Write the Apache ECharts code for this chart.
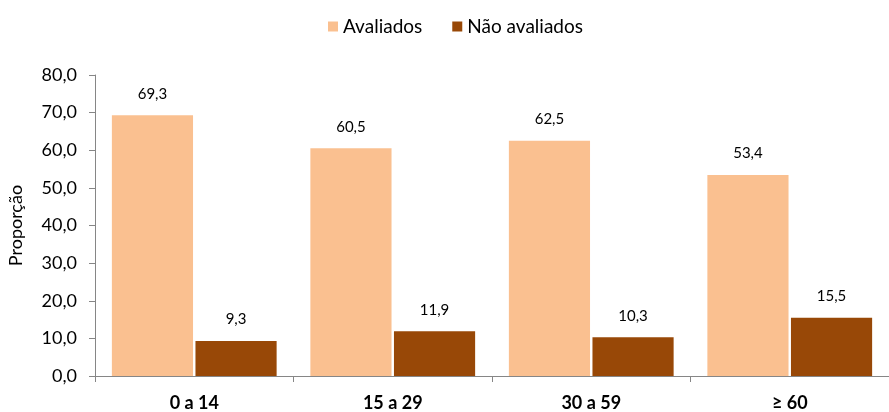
<!DOCTYPE html>
<html>
<head>
<meta charset="utf-8">
<script src="https://cdn.jsdelivr.net/npm/echarts@6/dist/echarts.min.js"></script>
<style>
  html, body { margin: 0; padding: 0; background: #fff; }
  #chart { width: 889px; height: 412px; }
</style>
</head>
<body>
<div id="chart"></div>
<script>
// Age groups and the share of each group, by evaluation status
const categories = ['0 a 14', '15 a 29', '30 a 59', '≥ 60'];
const avaliados = [69.3, 60.5, 62.5, 53.4];
const naoAvaliados = [9.3, 11.9, 10.3, 15.5];
const yTicks = [0, 10, 20, 30, 40, 50, 60, 70, 80];

const FONT = 'Lato, "Liberation Sans", sans-serif';
const fmt = v => v.toFixed(1).replace('.', ',');

const chart = echarts.init(document.getElementById('chart'));

const labelStyle = {
  show: true,
  position: 'top',
  distance: 14,
  fontFamily: FONT,
  fontSize: 15,
  color: '#000',
  formatter: p => fmt(p.value)
};

chart.setOption({
  animation: false,
  textStyle: { fontFamily: FONT },
  legend: {
    top: 12,
    left: 323,
    itemWidth: 10,
    itemHeight: 10,
    itemGap: 30,
    icon: 'rect',
    textStyle: { fontFamily: FONT, fontSize: 19, color: '#000', padding: [0, 0, 0, 0] },
    data: ['Avaliados', 'Não avaliados']
  },
  grid: { left: 95, right: 0, top: 75, bottom: 36, containLabel: false, outerBoundsMode: 'none' },
  xAxis: {
    type: 'category',
    data: categories,
    axisLine: { lineStyle: { color: '#868686', width: 1 } },
    axisTick: { show: true, length: 6, lineStyle: { color: '#868686' } },
    axisLabel: { fontFamily: FONT, fontSize: 18, fontWeight: 'bold', color: '#000', margin: 18 }
  },
  yAxis: {
    type: 'value',
    min: yTicks[0],
    max: yTicks[yTicks.length - 1],
    interval: 10,
    name: 'Proporção',
    nameLocation: 'middle',
    nameGap: 70,
    nameTextStyle: { fontFamily: FONT, fontSize: 18, color: '#000' },
    axisLine: { show: true, lineStyle: { color: '#868686', width: 1 } },
    axisTick: { show: true, length: 6, lineStyle: { color: '#868686' } },
    splitLine: { show: false },
    axisLabel: { fontFamily: FONT, fontSize: 18, color: '#000', margin: 18, formatter: v => fmt(v) }
  },
  series: [
    {
      name: 'Avaliados',
      type: 'bar',
      data: avaliados,
      itemStyle: { color: '#FAC090' },
      barGap: '3%',
      barCategoryGap: '17%',
      label: labelStyle
    },
    {
      name: 'Não avaliados',
      type: 'bar',
      data: naoAvaliados,
      itemStyle: { color: '#984807' },
      label: labelStyle
    }
  ]
});
</script>
</body>
</html>
